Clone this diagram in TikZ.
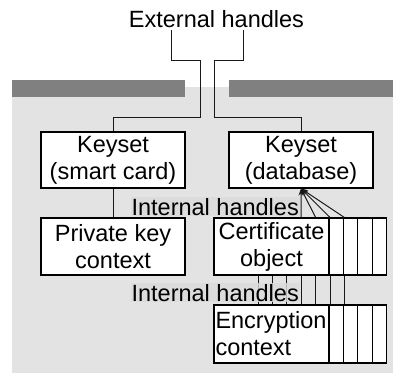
\documentclass[tikz,border=0pt]{standalone}
\usepackage{fontspec}
\setmainfont{Liberation Sans}
\usetikzlibrary{arrows.meta,calc}
\definecolor{panelGray}{RGB}{227,227,227}
\definecolor{barGray}{RGB}{128,128,128}
\definecolor{labelGray}{RGB}{219,219,219}
\tikzset{
  object node/.style={draw=black,fill=white,line width=1.1pt,align=center,font=\fontsize{23.5}{27}\selectfont,inner sep=0pt,minimum width=144pt,minimum height=56pt},
  slot node/.style={draw=black,fill=white,line width=1.1pt,inner sep=0pt,minimum width=14.4pt,minimum height=57pt},
  handle line/.style={line width=1pt,draw=black!90},
  handle arrow/.style={-{Stealth[length=7pt,width=5pt]},line width=1pt,draw=black!90},
  handle label/.style={font=\fontsize{23.5}{27}\selectfont,fill=labelGray,fill opacity=0.8,text opacity=1,inner sep=1pt}
}
\begin{document}
\begin{tikzpicture}[x=1pt,y=-1pt]
        \useasboundingbox (0,0) rectangle (393,373);
        % kernel area with its two walls
        \fill[panelGray] (12,87) rectangle (393,373);
        \fill[barGray] (12,80) rectangle (185,97);
        \fill[barGray] (229,80) rectangle (393,97);
        \node[font=\fontsize{23.5}{27}\selectfont,anchor=base,inner sep=3pt] (ext) at (216.5,27) {External handles};
        \node[object node] (smart) at (113,160) {Keyset\\(smart card)};
        \node[object node] (db) at (301,160) {Keyset\\(database)};
        \node[object node,minimum height=57pt] (privkey) at (113,246.5) {Private key\\context};
        \node[object node,minimum width=115pt,minimum height=57pt] (cert) at (271.5,246.5) {Certificate\\object};
        \node[object node,minimum width=115pt,minimum height=58pt,text width=112pt,align=left] (enc) at (271.5,334) {Encryption\\context};
        \foreach \i in {1,...,4} {
          \node[slot node] (cert\i) at ({321.8+14.4*\i},246.5) {};
          \node[slot node,minimum height=58pt] (enc\i) at ({321.8+14.4*\i},334) {};
        }
        \foreach \i in {0,...,6}
          \coordinate (h\i) at ({258+14.4*\i},0);
        \coordinate (extL) at (171,0);
        \coordinate (extR) at (243,0);
        \coordinate (bendL) at (200,60);
        \coordinate (bendR) at (214,60);
        \coordinate (busL) at (200,117);
        \coordinate (busR) at (214,117);
        \draw[handle line] (ext.south -| extL) |- (bendL) -- (busL) -| (smart.north);
        \draw[handle line] (ext.south -| extR) |- (bendR) -- (busR) -| (db.north);
        \draw[handle line] (smart) -- (privkey);
        % internal handles
        \foreach \i in {0,...,2}
          \draw[handle line] (cert.south -| h\i) -- (enc.north -| h\i);
        \node[handle label,anchor=base east] (upper) at (300,215) {Internal handles};
        \node[handle label,anchor=base east] (lower) at (300,301) {Internal handles};
        \foreach \i in {3,...,6} {
          \draw[handle line] (cert.south -| h\i) -- (enc.north -| h\i);
          \draw[handle arrow] (cert.north -| h\i) -- (db.south);
        }
      \end{tikzpicture}
\end{document}
